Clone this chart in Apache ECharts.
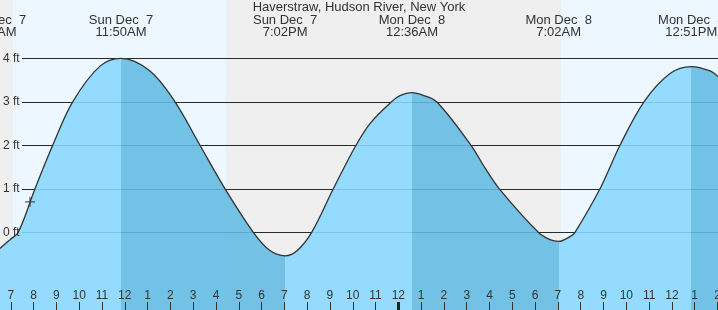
<!DOCTYPE html>
<html><head><meta charset="utf-8">
<script src="https://cdn.jsdelivr.net/npm/echarts@6/dist/echarts.min.js"></script>
<style>html,body{margin:0;padding:0;background:#fff}#c{width:718px;height:310px}</style>
</head><body><div id="c"></div>
<script>
// ---------------- data (hours counted from Sun Dec 7, 00:00) ----------------
const chartTitle = 'Haverstraw, Hudson River, New York';
const hourTicks = [7,8,9,10,11,12,13,14,15,16,17,18,19,20,21,22,23,24,25,26,27,28,29,30,31,32,33,34,35,36,37,38];
const midnightTicks = [24];
const footTicks = [0,1,2,3,4];
const tideHours = [6.526,6.965,7.329,8.062,8.838,9.715,10.913,11.833,13.106,14.203,15.299,16.396,17.637,18.370,19.033,19.541,20.199,21.147,22.142,22.756,23.700,24.072,24.6,25.094,25.682,27.187,27.801,28.428,30.139,30.652,31.033,31.530,31.749,32.846,33.723,34.776,35.916,36.85,37.671,38.022];
const tideFeet  = [-0.37,-0.17,0,1,2,3,3.82,4.0,3.71,3,2,1,0,-0.42,-0.54,-0.43,0,1,2,2.5,3,3.14,3.21,3.15,3,2,1.48,1,0,-0.17,-0.21,-0.10,0,1,2,3,3.65,3.81,3.71,3.58];
const extremeHours  = [6.267, 11.833, 19.033, 24.6, 31.033, 36.85];
const extremeKinds  = ['L','H','L','H','L','H'];
const extremeLabels = ['Sun Dec  7\n6:16AM','Sun Dec  7\n11:50AM','Sun Dec  7\n7:02PM','Mon Dec  8\n12:36AM','Mon Dec  8\n7:02AM','Mon Dec  8\n12:51PM'];
const sunriseHours = [7.097, 31.134];
const sunsetHours  = [16.44];
const nowPoint = [7.842, 0.70];

// ---------------- layout / style ----------------
const W = 718, H = 310;
const tick7X = 10.8, pxPerHour = 22.797, zeroY = 232.3, pxPerFt = 43.5;
const xMin = hourTicks[0] - tick7X / pxPerHour;
const xMax = xMin + W / pxPerHour;
const yMax = zeroY / pxPerFt;
const yMin = -(H - zeroY) / pxPerFt;
const FONT = 'Liberation Sans';
const TXT = '#333';
const DAY = '#edf7ff', NIGHT = '#efefef';
const RISE = 'rgb(136,216,255)', FALL = 'rgb(98,187,227)';
const gridLineLeft = 22, topPad = 60;

// background bands
const edges = [xMin, sunriseHours[0], sunsetHours[0], sunriseHours[1], xMax];
const bands = [];
for (let i = 0; i < edges.length - 1; i++) {
  bands.push([{xAxis: edges[i], itemStyle: {color: i % 2 ? DAY : NIGHT}}, {xAxis: edges[i + 1]}]);
}
// rising / falling pieces
const pieces = [];
for (let i = 0; i < extremeHours.length; i++) {
  const p = {gte: extremeHours[i], color: extremeKinds[i] === 'H' ? FALL : RISE};
  if (i + 1 < extremeHours.length) p.lt = extremeHours[i + 1];
  pieces.push(p);
}
const tideData = tideHours.map((h, i) => [h, tideFeet[i]]);
const hourLabel = v => { const m = ((Math.round(v) % 12) + 12) % 12; return String(m === 0 ? 12 : m); };
const extremeLabel = v => { const i = extremeHours.findIndex(e => Math.abs(e - v) < 1e-6); return i >= 0 ? extremeLabels[i] : ''; };

const chart = echarts.init(document.getElementById('c'), null, {renderer: 'canvas'});
chart.setOption({
  animation: false,
  backgroundColor: '#fff',
  textStyle: {fontFamily: FONT},
  title: {
    text: chartTitle, left: 'center', top: 1, padding: 0,
    textStyle: {fontFamily: FONT, fontSize: 13, fontWeight: 'normal', color: TXT}
  },
  grid: [
    {left: 0, right: 0, top: 0, bottom: 0, outerBoundsMode: 'none'},
    {left: gridLineLeft, right: 0, top: zeroY - footTicks[footTicks.length - 1] * pxPerFt, bottom: H - zeroY, outerBoundsMode: 'none'},
    {left: -topPad, right: 0, top: 0, bottom: 0, outerBoundsMode: 'none'}
  ],
  xAxis: [
    {type: 'value', gridIndex: 0, min: xMin, max: xMax, position: 'bottom', z: 5,
     axisLine: {show: false, onZero: false}, splitLine: {show: false},
     axisTick: {show: true, inside: true, length: 8, customValues: hourTicks, lineStyle: {color: TXT, width: 1}},
     axisLabel: {show: true, inside: true, margin: 8, customValues: hourTicks, formatter: hourLabel,
                 fontFamily: FONT, fontSize: 12, color: TXT}},
    {type: 'value', gridIndex: 1, min: xMin + gridLineLeft / pxPerHour, max: xMax, show: false,
     axisLine: {onZero: false}},
    {type: 'value', gridIndex: 2, min: xMin - topPad / pxPerHour, max: xMax, position: 'top', z: 5,
     axisLine: {show: false, onZero: false}, axisTick: {show: false}, splitLine: {show: false},
     axisLabel: {show: true, inside: true, margin: 14.5, customValues: extremeHours, formatter: extremeLabel,
                 fontFamily: FONT, fontSize: 13, lineHeight: 12, color: TXT, align: 'center'}},
    {type: 'value', gridIndex: 0, min: xMin, max: xMax, position: 'bottom', z: 6,
     axisLine: {show: false, onZero: false}, splitLine: {show: false}, axisLabel: {show: false},
     axisTick: {show: true, inside: true, length: 8, customValues: midnightTicks, lineStyle: {color: '#222', width: 3}}}
  ],
  yAxis: [
    {type: 'value', gridIndex: 0, min: yMin, max: yMax, z: 5,
     axisLine: {show: false, onZero: false}, axisTick: {show: false}, splitLine: {show: false},
     axisLabel: {show: true, inside: true, margin: 3, customValues: footTicks, formatter: v => v + ' ft',
                 fontFamily: FONT, fontSize: 12, color: TXT}},
    {type: 'value', gridIndex: 1, min: footTicks[0], max: footTicks[footTicks.length - 1], interval: 1, z: 1,
     axisLine: {show: false, onZero: false}, axisTick: {show: false}, axisLabel: {show: false},
     splitLine: {show: true, lineStyle: {color: '#2b2b2b', width: 1}}},
    {type: 'value', gridIndex: 2, min: yMin, max: yMax, show: false, axisLine: {onZero: false}}
  ],
  visualMap: {type: 'piecewise', show: false, dimension: 0, seriesIndex: 1, pieces: pieces},
  series: [
    {type: 'line', xAxisIndex: 0, yAxisIndex: 0, data: [], silent: true, z: 0,
     markArea: {silent: true, z: 0, data: bands}},
    {type: 'line', xAxisIndex: 0, yAxisIndex: 0, data: tideData, smooth: 0.35, showSymbol: false, z: 2,
     lineStyle: {color: '#333', width: 1.3},
     areaStyle: {opacity: 0.88, origin: 'start'}},
    {type: 'scatter', xAxisIndex: 0, yAxisIndex: 0, data: [nowPoint], z: 3,
     symbol: 'path://M0 5H10M5 0V10', symbolSize: 10,
     itemStyle: {color: 'none', borderColor: '#333', borderWidth: 1.3}}
  ]
});
</script></body></html>
